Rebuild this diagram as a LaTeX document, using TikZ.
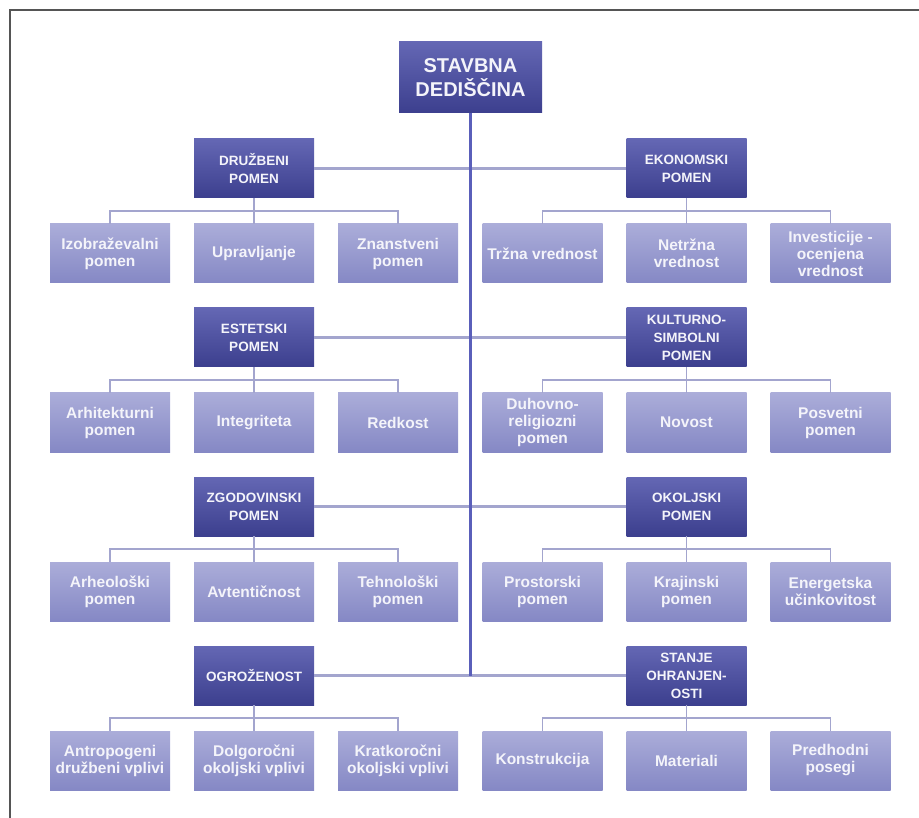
\documentclass[tikz,border=0pt]{standalone}
\usepackage{fontspec}
\setmainfont{Liberation Sans}
\usetikzlibrary{calc}
\definecolor{catTop}{HTML}{6467B4}
\definecolor{catBot}{HTML}{3C3F8E}
\definecolor{leafTop}{HTML}{ABADD9}
\definecolor{leafBot}{HTML}{8588C5}
\definecolor{lineC}{HTML}{A3A5CE}
\definecolor{trunkC}{HTML}{5A5FBA}
\definecolor{frameC}{HTML}{555555}
\definecolor{txtC}{HTML}{F4F4FA}
\tikzset{
  base/.style={inner sep=0pt, align=center, text=txtC},
  titlebox/.style={base, minimum width=143pt, minimum height=71pt, top color=catTop, bottom color=catBot,
     font=\fontsize{20}{24}\selectfont\bfseries},
  catbox/.style={base, minimum width=120pt, minimum height=59pt, top color=catTop, bottom color=catBot,
     font=\fontsize{13.5}{18}\selectfont\bfseries},
  leafbox/.style={base, minimum width=120pt, minimum height=59pt, top color=leafTop, bottom color=leafBot,
     font=\fontsize{15.5}{17}\selectfont\bfseries},
  brk/.style={draw=lineC, line width=1.7pt},
  hline/.style={draw=lineC, line width=2.2pt},
  trunk/.style={draw=trunkC, line width=2.6pt},
  frame/.style={draw=frameC, line width=1.8pt}
}
\begin{document}
\begin{tikzpicture}[x=1pt,y=-1pt]
\useasboundingbox (0,0) rectangle (919,818);
\draw[frame] (10,818) -- (10,10) -- (919,10);

\node[titlebox] (title) at (470.5,77.5) {STAVBNA\\DEDIŠČINA};

% Row 1
\node[catbox] (c1l) at (254,168.5) {DRUŽBENI\\POMEN};
\node[catbox] (c1r) at (686.5,168.5) {EKONOMSKI\\POMEN};
\node[leafbox] (l1la) at (110,253.5) {Izobraževalni\\pomen};
\node[leafbox] (l1lb) at (254,253.5) {Upravljanje};
\node[leafbox] (l1lc) at (398,253.5) {Znanstveni\\pomen};
\node[leafbox] (l1ra) at (542.5,253.5) {Tržna vrednost};
\node[leafbox] (l1rb) at (686.5,253.5) {Netržna\\vrednost};
\node[leafbox] (l1rc) at (830.5,253.5) {Investicije -\\ocenjena\\vrednost};

% Row 2
\node[catbox] (c2l) at (254,337.5) {ESTETSKI\\POMEN};
\node[catbox] (c2r) at (686.5,337.5) {KULTURNO-\\SIMBOLNI\\POMEN};
\node[leafbox] (l2la) at (110,422.5) {Arhitekturni\\pomen};
\node[leafbox] (l2lb) at (254,422.5) {Integriteta};
\node[leafbox] (l2lc) at (398,422.5) {Redkost};
\node[leafbox] (l2ra) at (542.5,422.5) {Duhovno-\\religiozni\\pomen};
\node[leafbox] (l2rb) at (686.5,422.5) {Novost};
\node[leafbox] (l2rc) at (830.5,422.5) {Posvetni\\pomen};

% Row 3
\node[catbox] (c3l) at (254,506.5) {ZGODOVINSKI\\POMEN};
\node[catbox] (c3r) at (686.5,506.5) {OKOLJSKI\\POMEN};
\node[leafbox] (l3la) at (110,591.5) {Arheološki\\pomen};
\node[leafbox] (l3lb) at (254,591.5) {Avtentičnost};
\node[leafbox] (l3lc) at (398,591.5) {Tehnološki\\pomen};
\node[leafbox] (l3ra) at (542.5,591.5) {Prostorski\\pomen};
\node[leafbox] (l3rb) at (686.5,591.5) {Krajinski\\pomen};
\node[leafbox] (l3rc) at (830.5,591.5) {Energetska\\učinkovitost};

% Row 4
\node[catbox] (c4l) at (254,675.5) {OGROŽENOST};
\node[catbox] (c4r) at (686.5,675.5) {STANJE\\OHRANJEN-\\OSTI};
\node[leafbox] (l4la) at (110,760.5) {Antropogeni\\družbeni vplivi};
\node[leafbox] (l4lb) at (254,760.5) {Dolgoročni\\okoljski vplivi};
\node[leafbox] (l4lc) at (398,760.5) {Kratkoročni\\okoljski vplivi};
\node[leafbox] (l4ra) at (542.5,760.5) {Konstrukcija};
\node[leafbox] (l4rb) at (686.5,760.5) {Materiali};
\node[leafbox] (l4rc) at (830.5,760.5) {Predhodni\\posegi};

% connectors
\foreach \r in {1,...,4} {
  \draw[hline] (c\r l.east) -- (c\r r.west);
  \foreach \s in {l,r} {
    \coordinate (k\r\s) at ($(c\r\s.south)!0.5!(l\r\s b.north)$);
    \draw[brk] (c\r\s.south) -- (l\r\s b.north);
    \draw[brk] (l\r\s a.north) |- (k\r\s) -| (l\r\s c.north);
  }
}
\coordinate (trunkend) at (title.south |- c4l.east);
\draw[trunk] (title.south) -- (trunkend);
\end{tikzpicture}
\end{document}
